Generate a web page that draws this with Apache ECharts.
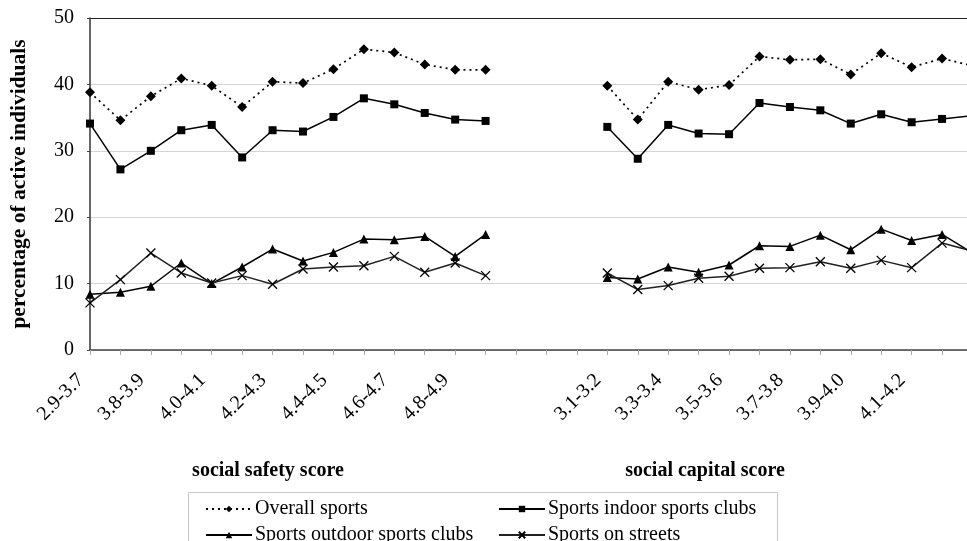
<!DOCTYPE html>
<html>
<head>
<meta charset="utf-8">
<script src="https://cdn.jsdelivr.net/npm/echarts@6/dist/echarts.min.js"></script>
<style>
html,body{margin:0;padding:0;background:#fff;}
#chart{width:967px;height:541px;}
</style>
</head>
<body>
<div id="chart"></div>
<script>
// Categories
const safetyCats = ['2.9-3.7','3.7-3.8','3.8-3.9','3.9-4.0','4.0-4.1','4.1-4.2','4.2-4.3','4.3-4.4','4.4-4.5','4.5-4.6','4.6-4.7','4.7-4.8','4.8-4.9','4.9-5.0'];
const gapCats = ['', '', ''];
const capitalCats = ['3.1-3.2','3.2-3.3','3.3-3.4','3.4-3.5','3.5-3.6','3.6-3.7','3.7-3.8','3.8-3.9','3.9-4.0','4.0-4.1','4.1-4.2','4.2-4.3','4.3-4.4'];

// Series values: social safety score group
const overallSafety  = [38.8,34.6,38.2,40.9,39.8,36.6,40.4,40.2,42.3,45.3,44.8,43.0,42.2,42.2];
const indoorSafety   = [34.1,27.2,30.0,33.1,33.9,29.0,33.1,32.9,35.1,37.9,37.0,35.7,34.7,34.5];
const outdoorSafety  = [8.4,8.7,9.6,13.1,10.0,12.5,15.2,13.4,14.7,16.7,16.6,17.1,14.1,17.4];
const streetsSafety  = [7.1,10.6,14.6,11.6,10.1,11.2,9.9,12.2,12.5,12.7,14.1,11.7,13.1,11.2];

// Series values: social capital score group
const overallCapital = [39.8,34.7,40.4,39.2,39.9,44.2,43.7,43.8,41.5,44.7,42.6,43.9,42.8];
const indoorCapital  = [33.6,28.8,33.9,32.6,32.5,37.2,36.6,36.1,34.1,35.5,34.3,34.8,35.3];
const outdoorCapital = [10.9,10.7,12.5,11.7,12.8,15.7,15.6,17.3,15.1,18.2,16.5,17.4,14.6];
const streetsCapital = [11.6,9.1,9.7,10.8,11.1,12.3,12.4,13.3,12.3,13.5,12.4,16.1,14.9];

// Y tick values
const yTicks = [0,10,20,30,40,50];

const seriesNames = ['Overall sports','Sports indoor sports clubs','Sports outdoor sports clubs','Sports on streets'];

const gapVals = gapCats.map(() => null);
const categories = safetyCats.concat(gapCats, capitalCats);
const join = (a, b) => a.concat(gapVals, b);

const nS = safetyCats.length, nG = gapCats.length, nC = capitalCats.length;
function showLabel(i) {
  if (i < nS) return i % 2 === 0;
  const j = i - nS - nG;
  if (j >= 0 && j < nC - 1) return j % 2 === 0;
  return false;
}

const FONT = '"Liberation Serif", "Times New Roman", serif';
const chart = echarts.init(document.getElementById('chart'), null, {renderer: 'canvas'});

const xPath = 'path://M0,0L10,10M0,10L10,0';

function legendAt(name, left, top) {
  return {data: [name], orient: 'horizontal', left: left, top: top,
    itemWidth: 46, itemHeight: 8, padding: 0,
    textStyle: {fontFamily: FONT, fontSize: 20, color: '#000', padding: [0,0,0,-2]}};
}

chart.setOption({
  animation: false,
  backgroundColor: '#fff',
  textStyle: {fontFamily: FONT, color: '#000'},
  grid: {left: 90, top: 18, bottom: 191, right: -5.5, containLabel: false, outerBoundsMode: 'none'},
  title: [
    {text: 'social safety score', left: 263, top: 456, textAlign: 'center',
     textStyle: {fontFamily: FONT, fontWeight: 'bold', fontSize: 20, color: '#000'}},
    {text: 'social capital score', left: 700, top: 456, textAlign: 'center',
     textStyle: {fontFamily: FONT, fontWeight: 'bold', fontSize: 20, color: '#000'}}
  ],
  graphic: [
    {type: 'rect', shape: {x: 188.5, y: 492.5, width: 589, height: 60},
     style: {fill: 'none', stroke: '#c8c8c8', lineWidth: 1}, z: 0}
  ],
  legend: [
    legendAt(seriesNames[0], 205, 499),
    legendAt(seriesNames[2], 205, 525),
    legendAt(seriesNames[1], 498, 499),
    legendAt(seriesNames[3], 498, 525)
  ],
  xAxis: {
    type: 'category',
    data: categories,
    boundaryGap: false,
    axisLine: {lineStyle: {color: '#444', width: 1.5}},
    axisTick: {show: true, interval: 0, length: 5, lineStyle: {color: '#aaa'}},
    axisLabel: {interval: showLabel, rotate: 45, fontSize: 20, fontFamily: FONT, color: '#000',
                margin: 18, padding: [0, 13, 0, 0]},
    splitLine: {show: false}
  },
  yAxis: {
    type: 'value',
    min: yTicks[0], max: yTicks[yTicks.length - 1], interval: 10,
    name: 'percentage of active individuals',
    nameLocation: 'middle', nameGap: 60, nameRotate: 90,
    nameTextStyle: {fontFamily: FONT, fontWeight: 'bold', fontSize: 21.5, color: '#000'},
    axisLine: {show: true, lineStyle: {color: '#333', width: 1.5}},
    axisTick: {show: true, length: 3, lineStyle: {color: '#444'}},
    axisLabel: {fontSize: 20, fontFamily: FONT, color: '#000', margin: 16},
    splitLine: {show: true, lineStyle: {color: ['#d4d4d4','#d4d4d4','#d4d4d4','#d4d4d4','#d4d4d4','#222'], width: 1}}
  },
  series: [
    {name: seriesNames[0], type: 'line', data: join(overallSafety, overallCapital),
     symbol: 'diamond', symbolSize: 10, connectNulls: false,
     lineStyle: {color: '#000', width: 1.7, type: [2, 4]},
     itemStyle: {color: '#000'}},
    {name: seriesNames[1], type: 'line', data: join(indoorSafety, indoorCapital),
     symbol: 'rect', symbolSize: 8, connectNulls: false,
     lineStyle: {color: '#000', width: 1.5},
     itemStyle: {color: '#000'}},
    {name: seriesNames[2], type: 'line', data: join(outdoorSafety, outdoorCapital),
     symbol: 'triangle', symbolSize: 9, connectNulls: false,
     lineStyle: {color: '#000', width: 1.5},
     itemStyle: {color: '#000'}},
    {name: seriesNames[3], type: 'line', data: join(streetsSafety, streetsCapital),
     symbol: xPath, symbolSize: 9, connectNulls: false,
     lineStyle: {color: '#222', width: 1.5},
     itemStyle: {color: 'rgba(0,0,0,0)', borderColor: '#000', borderWidth: 1.3}}
  ]
});
</script>
</body>
</html>
